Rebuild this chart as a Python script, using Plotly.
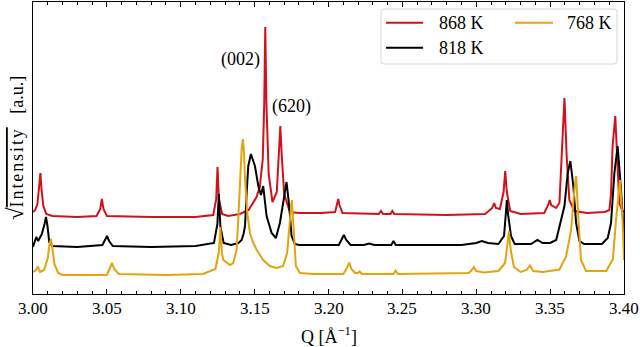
import plotly.graph_objects as go

# ---------------- data ----------------
q_868 = [3.0000, 3.0015, 3.0030, 3.0042, 3.0050, 3.0058, 3.0070, 3.0090, 3.0130, 3.0300,
         3.0430, 3.0455, 3.0466, 3.0477, 3.0500, 3.0800, 3.1100, 3.1220, 3.1240, 3.1249,
         3.1258, 3.1280, 3.1320, 3.1400, 3.1460, 3.1513, 3.1535, 3.1555, 3.1565, 3.1572,
         3.1580, 3.1595, 3.1621, 3.1650, 3.1665, 3.1674, 3.1683, 3.1700, 3.1739, 3.1800,
         3.1950, 3.2045, 3.2058, 3.2066, 3.2074, 3.2095, 3.2340, 3.2355, 3.2370, 3.2420,
         3.2432, 3.2445, 3.2800, 3.3060, 3.3108, 3.3121, 3.3133, 3.3160, 3.3185, 3.3196,
         3.3207, 3.3230, 3.3300, 3.3460, 3.3487, 3.3497, 3.3507, 3.3540, 3.3563, 3.3585,
         3.3597, 3.3612, 3.3630, 3.3664, 3.3750, 3.3870, 3.3901, 3.3912, 3.3923, 3.3941,
         3.3957, 3.3968, 3.3990, 3.4000]
i_868 = [82, 84, 90, 105, 121, 104, 88, 80, 78, 77,
         78, 85, 95, 85, 78, 77, 77, 79, 95, 127,
         95, 80, 78, 80, 84, 97, 107, 135, 190, 267,
         190, 120, 92, 102, 140, 168, 140, 100, 82, 81,
         81, 82, 90, 95, 89, 81, 80, 83, 80, 80,
         83, 80, 79, 80, 86, 91, 86, 85, 102, 123,
         102, 83, 80, 81, 89, 94, 89, 86, 91, 164,
         196, 138, 94, 83, 81, 82, 84, 100, 148, 178,
         131, 91, 83, 82]

q_818 = [3.0000, 3.0010, 3.0022, 3.0035, 3.0060, 3.0078, 3.0088, 3.0098, 3.0110, 3.0130,
         3.0300, 3.0470, 3.0490, 3.0501, 3.0515, 3.0540, 3.0800, 3.1100, 3.1225, 3.1248,
         3.1258, 3.1268, 3.1290, 3.1340, 3.1390, 3.1412, 3.1425, 3.1435, 3.1446, 3.1457,
         3.1475, 3.1502, 3.1525, 3.1543, 3.1558, 3.1581, 3.1615, 3.1644, 3.1671, 3.1698,
         3.1716, 3.1734, 3.1750, 3.1772, 3.1800, 3.2070, 3.2088, 3.2104, 3.2120, 3.2150,
         3.2240, 3.2275, 3.2310, 3.2425, 3.2440, 3.2455, 3.2900, 3.3000, 3.3038, 3.3080,
         3.3150, 3.3188, 3.3200, 3.3207, 3.3215, 3.3235, 3.3260, 3.3370, 3.3414, 3.3450,
         3.3500, 3.3541, 3.3597, 3.3619, 3.3637, 3.3657, 3.3676, 3.3698, 3.3730, 3.3850,
         3.3890, 3.3912, 3.3935, 3.3957, 3.3980, 3.3995, 3.4000]
i_818 = [47, 52, 57, 53, 60, 70, 77, 68, 52, 48,
         47, 49, 54, 58, 53, 48, 47, 48, 51, 70,
         100, 68, 51, 49, 51, 54, 60, 68, 101, 128,
         140, 128, 108, 99, 108, 78, 61, 56, 71, 98,
         112, 88, 58, 50, 49, 49, 54, 59, 54, 49,
         49, 50.5, 49, 49, 53, 49, 49, 51, 53, 51,
         50, 58, 80, 94, 80, 58, 50, 50, 54, 51,
         51, 54, 88, 121, 133, 108, 71, 53, 50, 50,
         56, 71, 121, 148, 104, 61, 58]

q_768 = [3.0000, 3.0020, 3.0033, 3.0048, 3.0075, 3.0100, 3.0112, 3.0121, 3.0130, 3.0145,
         3.0170, 3.0200, 3.0500, 3.0520, 3.0535, 3.0550, 3.0580, 3.0900, 3.1150, 3.1235,
         3.1258, 3.1268, 3.1278, 3.1288, 3.1333, 3.1355, 3.1378, 3.1389, 3.1401, 3.1412,
         3.1421, 3.1428, 3.1434, 3.1450, 3.1468, 3.1491, 3.1514, 3.1558, 3.1603, 3.1649,
         3.1693, 3.1720, 3.1739, 3.1752, 3.1763, 3.1779, 3.1806, 3.1900, 3.2100, 3.2125,
         3.2140, 3.2155, 3.2180, 3.2200, 3.2211, 3.2225, 3.2440, 3.2454, 3.2470, 3.2950,
         3.2970, 3.2984, 3.3000, 3.3050, 3.3150, 3.3195, 3.3211, 3.3221, 3.3232, 3.3255,
         3.3300, 3.3340, 3.3364, 3.3385, 3.3450, 3.3563, 3.3608, 3.3642, 3.3664, 3.3676,
         3.3693, 3.3709, 3.3743, 3.3880, 3.3925, 3.3946, 3.3973, 3.3990, 3.4000]
i_768 = [22, 24, 27.5, 22, 24, 36, 50, 55, 47, 30,
         21, 19, 19, 25, 31, 25, 20, 19, 20, 25,
         42, 67, 42, 34, 29, 31, 44, 74, 114, 144,
         155, 141, 118, 81, 61, 51, 44, 34, 28, 26,
         28, 41, 74, 94, 68, 28, 21, 20, 20, 26,
         31.5, 25, 21, 21, 22.5, 20, 20, 23.5, 20, 21,
         24, 27, 23, 21.5, 23, 31, 50, 63, 45, 27,
         22, 24, 28.5, 23, 22, 24.5, 37.5, 64, 104, 118,
         71, 34, 23, 23, 35, 74, 114, 74, 34]

series_names = ["868 K", "818 K", "768 K"]
peak_labels = ["(002)", "(620)"]
peak_label_q = [3.1401, 3.1750]
peak_label_i = [235, 187.6]
x_ticks = [3.00, 3.05, 3.10, 3.15, 3.20, 3.25, 3.30, 3.35, 3.40]
x_tick_labels = ["3.00", "3.05", "3.10", "3.15", "3.20", "3.25", "3.30", "3.35", "3.40"]

# ---------------- styling ----------------
W, H = 640, 347
L, R, T, B = 33, 16, 2, 53
PW, PH = W - L - R, H - T - B
FONT = "Liberation Serif"
colors = {"868 K": "#d3101c", "818 K": "#000000", "768 K": "#e3a40c"}

def fx(px):
    return (px - L) / PW

def fy(py):
    return (H - B - py) / PH

fig = go.Figure()
for name, q, inten in [("868 K", q_868, i_868), ("818 K", q_818, i_818), ("768 K", q_768, i_768)]:
    fig.add_trace(go.Scatter(x=q, y=inten, mode="lines", name=name,
                             line=dict(color=colors[name], width=2),
                             showlegend=False, hoverinfo="skip"))

annotations = []
for txt, xq, yi in zip(peak_labels, peak_label_q, peak_label_i):
    annotations.append(dict(x=xq, y=yi, xref="x", yref="y", text=txt, showarrow=False,
                            font=dict(family=FONT, size=18, color="black"),
                            xanchor="center", yanchor="middle"))

# x tick labels (serif, placed just below the axis)
for v, lab in zip(x_ticks, x_tick_labels):
    annotations.append(dict(x=v, y=fy(308), xref="x", yref="paper", text=lab,
                            showarrow=False, xanchor="center", yanchor="middle",
                            font=dict(family=FONT, size=17, color="black")))

# manual legend (2 columns, matplotlib style)
legend_pos = {"868 K": (386, 423, 437, 22.7), "818 K": (386, 423, 437, 47.7),
              "768 K": (515, 553, 565, 22.7)}
shapes = []
bx0, bx1, by0, by1 = fx(381), fx(617), fy(64), fy(9)
rx, ry = 3 / PW, 3 / PH
path = (f"M {bx0+rx},{by0} L {bx1-rx},{by0} Q {bx1},{by0} {bx1},{by0+ry} "
        f"L {bx1},{by1-ry} Q {bx1},{by1} {bx1-rx},{by1} L {bx0+rx},{by1} "
        f"Q {bx0},{by1} {bx0},{by1-ry} L {bx0},{by0+ry} Q {bx0},{by0} {bx0+rx},{by0} Z")
shapes.append(dict(type="path", path=path, xref="paper", yref="paper",
                   line=dict(color="#d6d6d6", width=1), fillcolor="rgba(255,255,255,0.85)",
                   layer="above"))
for name in series_names:
    x0, x1, xt, yy = legend_pos[name]
    shapes.append(dict(type="line", xref="paper", yref="paper", x0=fx(x0), x1=fx(x1),
                       y0=fy(yy), y1=fy(yy), line=dict(color=colors[name], width=2),
                       layer="above"))
    annotations.append(dict(x=fx(xt), y=fy(yy), xref="paper", yref="paper", text=name,
                            showarrow=False, xanchor="left", yanchor="middle",
                            font=dict(family=FONT, size=18, color="black")))

# y-axis label: sqrt(Intensity) [a.u.]
ylabel = ("<span style='font-size:23px'>√</span>"
          "<span style='text-decoration:overline;letter-spacing:1.9px'>Intensity</span>"
          "\u00a0\u00a0\u00a0[a.u.]")
annotations.append(dict(x=fx(15), y=fy(148), xref="paper", yref="paper",
                        text=ylabel, textangle=-90, showarrow=False,
                        xanchor="center", yanchor="middle",
                        font=dict(family=FONT, size=18, color="black")))

# x-axis label
annotations.append(dict(x=0.5, y=fy(335), xref="paper", yref="paper",
                        text="Q [Å<sup>−1</sup>]", showarrow=False,
                        xanchor="center", yanchor="middle",
                        font=dict(family=FONT, size=18, color="black")))

fig.update_layout(
    width=W, height=H, margin=dict(l=L, r=R, t=T, b=B, autoexpand=False),
    paper_bgcolor="white", plot_bgcolor="white",
    font=dict(family=FONT, size=17, color="black"),
    annotations=annotations, shapes=shapes,
    xaxis=dict(range=[3.0, 3.4], tickvals=x_ticks, showticklabels=False,
               ticks="inside", ticklen=5, tickwidth=1, tickcolor="black",
               minor=dict(dtick=0.01, tick0=3.0, ticks="inside", ticklen=3, tickwidth=1,
                          tickcolor="black", showgrid=False),
               showline=True, linecolor="black", linewidth=1.4, mirror="ticks",
               showgrid=False, zeroline=False, automargin=False),
    yaxis=dict(range=[0, 292], showticklabels=False, ticks="", showline=True,
               linecolor="black", linewidth=1.4, mirror=True, showgrid=False,
               zeroline=False, automargin=False),
)

fig.write_html("out.html", config={"displayModeBar": False},
               post_script="document.body.style.margin='0';document.body.style.overflow='hidden';")
